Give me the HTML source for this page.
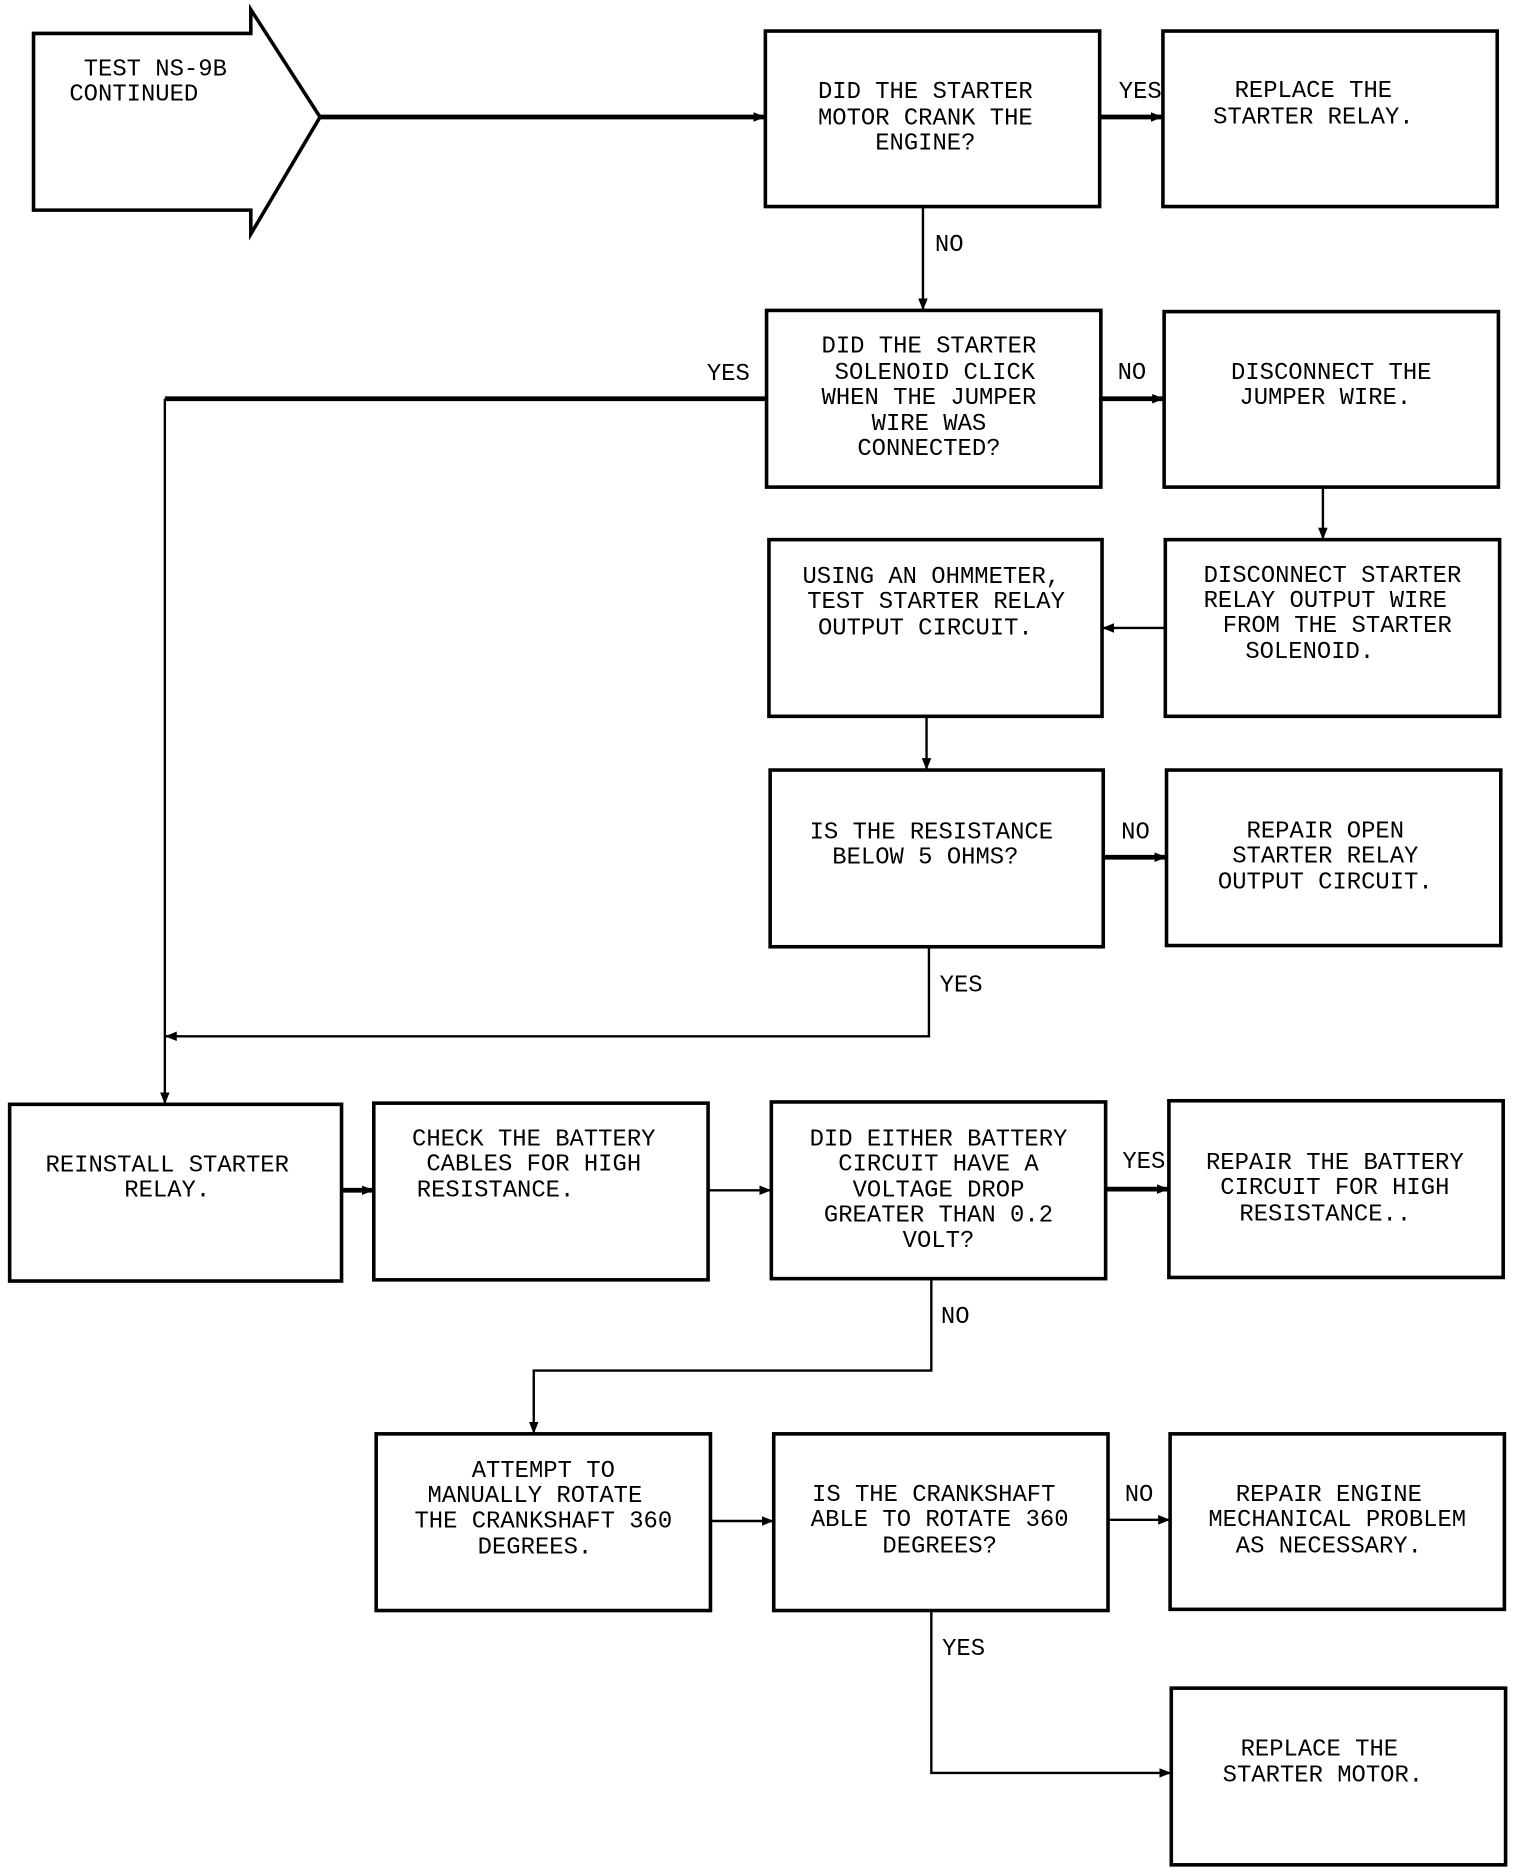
<!DOCTYPE html>
<html><head><meta charset="utf-8"><style>
html,body{margin:0;padding:0;background:#fff}
svg{display:block}
text{font-family:"Liberation Mono","DejaVu Sans Mono",monospace;font-size:20px;fill:#000;text-anchor:middle;dominant-baseline:middle}
.b{fill:#fff;stroke:#000;stroke-width:3}
.l{fill:none;stroke:#000;stroke-width:2}
.t{fill:none;stroke:#000;stroke-width:4}
</style></head><body>
<svg width="1520" height="1872" viewBox="0 0 1273 1568" xmlns="http://www.w3.org/2000/svg">
<defs><marker id="a" markerWidth="10" markerHeight="10" refX="9" refY="5" orient="auto" markerUnits="userSpaceOnUse"><path d="M0,1 L10,5 L0,9 z" fill="#000"/></marker></defs>
<path class="b" d="M28,28 H210 V8 L268,98 L210,196 V176 H28 Z"/>
<text x="130" y="58">TEST NS-9B</text><text x="112" y="79">CONTINUED</text>
<rect class="b" x="641" y="26" width="280" height="147"/>
<rect class="b" x="974" y="26" width="280" height="147"/>
<rect class="b" x="642" y="260" width="280" height="148"/>
<rect class="b" x="975" y="261" width="280" height="147"/>
<rect class="b" x="644" y="452" width="279" height="148"/>
<rect class="b" x="976" y="452" width="280" height="148"/>
<rect class="b" x="645" y="645" width="279" height="148"/>
<rect class="b" x="977" y="645" width="280" height="147"/>
<rect class="b" x="8" y="925" width="278" height="148"/>
<rect class="b" x="313" y="924" width="280" height="148"/>
<rect class="b" x="646" y="923" width="280" height="148"/>
<rect class="b" x="979" y="922" width="280" height="148"/>
<rect class="b" x="315" y="1201" width="280" height="148"/>
<rect class="b" x="648" y="1201" width="280" height="148"/>
<rect class="b" x="980" y="1201" width="280" height="147"/>
<rect class="b" x="981" y="1414" width="280" height="148"/>
<g>
<text x="775" y="77">DID THE STARTER</text><text x="775" y="99">MOTOR CRANK THE</text><text x="775" y="120">ENGINE?</text>
<text x="1100" y="76">REPLACE THE</text><text x="1100" y="98">STARTER RELAY.</text>
<text x="778" y="290">DID THE STARTER</text><text x="783" y="312">SOLENOID CLICK</text><text x="778" y="333">WHEN THE JUMPER</text><text x="778" y="355">WIRE WAS</text><text x="778" y="376">CONNECTED?</text>
<text x="1115" y="312">DISCONNECT THE</text><text x="1110" y="333">JUMPER WIRE.</text>
<text x="780" y="483">USING AN OHMMETER,</text><text x="784" y="504">TEST STARTER RELAY</text><text x="775" y="526">OUTPUT CIRCUIT.</text>
<text x="1116" y="482">DISCONNECT STARTER</text><text x="1110" y="503">RELAY OUTPUT WIRE</text><text x="1120" y="524">FROM THE STARTER</text><text x="1097" y="546">SOLENOID.</text>
<text x="780" y="697">IS THE RESISTANCE</text><text x="775" y="718">BELOW 5 OHMS?</text>
<text x="1110" y="696">REPAIR OPEN</text><text x="1110" y="717">STARTER RELAY</text><text x="1110" y="739">OUTPUT CIRCUIT.</text>
<text x="140" y="976">REINSTALL STARTER</text><text x="140" y="997">RELAY.</text>
<text x="447" y="954">CHECK THE BATTERY</text><text x="447" y="975">CABLES FOR HIGH</text><text x="415" y="997">RESISTANCE.</text>
<text x="786" y="954">DID EITHER BATTERY</text><text x="786" y="975">CIRCUIT HAVE A</text><text x="786" y="997">VOLTAGE DROP</text><text x="786" y="1018">GREATER THAN 0.2</text><text x="786" y="1039">VOLT?</text>
<text x="1118" y="974">REPAIR THE BATTERY</text><text x="1118" y="995">CIRCUIT FOR HIGH</text><text x="1110" y="1017">RESISTANCE..</text>
<text x="455" y="1232">ATTEMPT TO</text><text x="448" y="1253">MANUALLY ROTATE</text><text x="455" y="1274">THE CRANKSHAFT 360</text><text x="448" y="1296">DEGREES.</text>
<text x="782" y="1252">IS THE CRANKSHAFT</text><text x="787" y="1273">ABLE TO ROTATE 360</text><text x="787" y="1295">DEGREES?</text>
<text x="1113" y="1252">REPAIR ENGINE</text><text x="1120" y="1273">MECHANICAL PROBLEM</text><text x="1113" y="1295">AS NECESSARY.</text>
<text x="1105" y="1465">REPLACE THE</text><text x="1108" y="1487">STARTER MOTOR.</text>
</g>
<g>
<text x="955" y="77">YES</text><text x="795" y="205">NO</text><text x="610" y="313">YES</text><text x="948" y="312">NO</text>
<text x="951" y="697">NO</text><text x="805" y="825">YES</text><text x="958" y="973">YES</text><text x="800" y="1103">NO</text>
<text x="954" y="1252">NO</text><text x="807" y="1381">YES</text>
</g>
<path class="t" d="M268,98 H640" marker-end="url(#a)"/>
<path class="t" d="M921,98 H973" marker-end="url(#a)"/>
<path class="l" d="M773,173 V259" marker-end="url(#a)"/>
<path class="t" d="M642,334 H138"/>
<path class="l" d="M138,334 V924" marker-end="url(#a)"/>
<path class="t" d="M922,334 H974" marker-end="url(#a)"/>
<path class="l" d="M1108,408 V451" marker-end="url(#a)"/>
<path class="l" d="M976,526 H924" marker-end="url(#a)"/>
<path class="l" d="M776,600 V644" marker-end="url(#a)"/>
<path class="t" d="M924,718 H976" marker-end="url(#a)"/>
<path class="l" d="M778,793 V868 H139" marker-end="url(#a)"/>
<path class="t" d="M286,997 H312" marker-end="url(#a)"/>
<path class="l" d="M593,997 H645" marker-end="url(#a)"/>
<path class="t" d="M926,996 H978" marker-end="url(#a)"/>
<path class="l" d="M780,1071 V1148 H447 V1200" marker-end="url(#a)"/>
<path class="l" d="M595,1274 H647" marker-end="url(#a)"/>
<path class="l" d="M928,1273 H979" marker-end="url(#a)"/>
<path class="l" d="M780,1349 V1485 H980" marker-end="url(#a)"/>
</svg>
</body></html>
